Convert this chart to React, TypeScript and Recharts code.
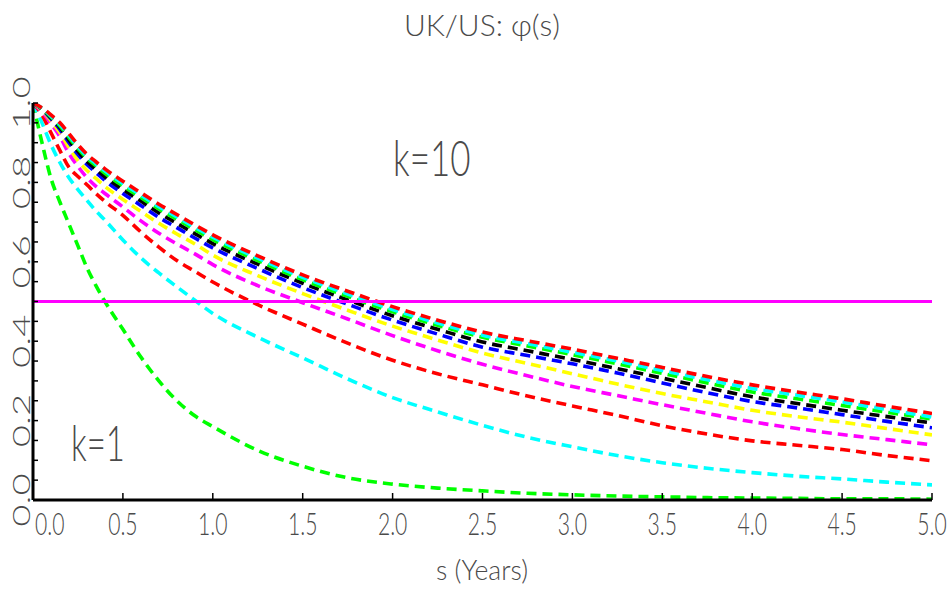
import React from "react";
import { LineChart, Line, XAxis, YAxis, ReferenceLine } from "recharts";

// maturity grid (years)
const sYears = [0, 0.05, 0.1, 0.15, 0.2, 0.25, 0.3, 0.35, 0.4, 0.5, 0.6, 0.7, 0.8, 0.9, 1.0, 1.25, 1.5, 1.75, 2.0, 2.25, 2.5, 2.75, 3.0, 3.25, 3.5, 3.75, 4.0, 4.25, 4.5, 4.75, 5.0];

// phi(s) for k = 1..10
const phiK1 = [1.0, 0.9, 0.81, 0.75, 0.695, 0.64, 0.585, 0.54, 0.5, 0.43, 0.36, 0.3, 0.25, 0.212, 0.185, 0.125, 0.085, 0.056, 0.04, 0.03, 0.023, 0.017, 0.013, 0.01, 0.008, 0.006, 0.005, 0.004, 0.003, 0.003, 0.002];
const phiK2 = [1.0, 0.95, 0.895, 0.85, 0.812, 0.782, 0.755, 0.728, 0.705, 0.655, 0.61, 0.572, 0.537, 0.503, 0.47, 0.41, 0.358, 0.305, 0.258, 0.222, 0.188, 0.158, 0.134, 0.112, 0.094, 0.08, 0.069, 0.06, 0.053, 0.045, 0.038];
const phiK3 = [1.0, 0.97, 0.925, 0.88, 0.838, 0.815, 0.794, 0.772, 0.752, 0.717, 0.675, 0.637, 0.603, 0.576, 0.549, 0.492, 0.443, 0.395, 0.352, 0.318, 0.29, 0.262, 0.237, 0.213, 0.187, 0.166, 0.149, 0.138, 0.127, 0.112, 0.099];
const phiK4 = [1.0, 0.978, 0.948, 0.915, 0.873, 0.84, 0.812, 0.79, 0.772, 0.738, 0.703, 0.672, 0.645, 0.62, 0.593, 0.54, 0.497, 0.456, 0.414, 0.376, 0.342, 0.313, 0.286, 0.263, 0.24, 0.218, 0.197, 0.18, 0.165, 0.152, 0.139];
const phiK5 = [1.0, 0.982, 0.955, 0.925, 0.888, 0.855, 0.83, 0.81, 0.79, 0.757, 0.727, 0.697, 0.67, 0.645, 0.617, 0.565, 0.52, 0.478, 0.438, 0.403, 0.37, 0.344, 0.318, 0.292, 0.268, 0.247, 0.226, 0.21, 0.196, 0.18, 0.164];
const phiK6 = [1.0, 0.984, 0.96, 0.933, 0.9, 0.87, 0.845, 0.825, 0.805, 0.772, 0.742, 0.712, 0.686, 0.66, 0.635, 0.583, 0.535, 0.493, 0.453, 0.418, 0.385, 0.364, 0.343, 0.32, 0.295, 0.27, 0.248, 0.232, 0.215, 0.198, 0.182];
const phiK7 = [1.0, 0.985, 0.963, 0.938, 0.907, 0.878, 0.853, 0.833, 0.814, 0.782, 0.753, 0.723, 0.697, 0.671, 0.646, 0.594, 0.546, 0.504, 0.464, 0.43, 0.398, 0.376, 0.354, 0.331, 0.307, 0.283, 0.26, 0.243, 0.226, 0.21, 0.194];
const phiK8 = [1.0, 0.986, 0.965, 0.942, 0.913, 0.885, 0.861, 0.842, 0.823, 0.791, 0.762, 0.733, 0.707, 0.681, 0.656, 0.603, 0.555, 0.513, 0.474, 0.44, 0.41, 0.388, 0.366, 0.343, 0.319, 0.295, 0.272, 0.255, 0.238, 0.221, 0.204];
const phiK9 = [1.0, 0.987, 0.967, 0.946, 0.918, 0.89, 0.866, 0.847, 0.829, 0.797, 0.768, 0.739, 0.713, 0.687, 0.662, 0.609, 0.561, 0.519, 0.48, 0.446, 0.415, 0.394, 0.372, 0.35, 0.326, 0.303, 0.281, 0.264, 0.247, 0.228, 0.209];
const phiK10 = [1.0, 0.988, 0.97, 0.95, 0.923, 0.895, 0.871, 0.852, 0.834, 0.803, 0.774, 0.745, 0.719, 0.693, 0.668, 0.615, 0.567, 0.526, 0.487, 0.453, 0.423, 0.401, 0.38, 0.357, 0.334, 0.311, 0.29, 0.272, 0.255, 0.236, 0.218];

const halfLevel = 0.5;

const xTicks = [0, 0.5, 1.0, 1.5, 2.0, 2.5, 3.0, 3.5, 4.0, 4.5, 5.0];
const yTicks = [0, 0.05, 0.1, 0.15, 0.2, 0.25, 0.3, 0.35, 0.4, 0.45, 0.5, 0.55, 0.6, 0.65, 0.7, 0.75, 0.8, 0.85, 0.9, 0.95, 1.0];

const series = [
  { key: "k1", values: phiK1, color: "#00ff00" },
  { key: "k2", values: phiK2, color: "#00ffff" },
  { key: "k3", values: phiK3, color: "#ff0000" },
  { key: "k4", values: phiK4, color: "#ff00ff" },
  { key: "k5", values: phiK5, color: "#ffff00" },
  { key: "k6", values: phiK6, color: "#0000ff" },
  { key: "k7", values: phiK7, color: "#000000" },
  { key: "k8", values: phiK8, color: "#00ff00" },
  { key: "k9", values: phiK9, color: "#00ffff" },
  { key: "k10", values: phiK10, color: "#ff0000" },
];

const rows = sYears.map((s, i) => {
  const r: Record<string, number> = { s };
  series.forEach((sr) => {
    r[sr.key] = sr.values[i];
  });
  return r;
});

const TEXT = "#4a4a4a";
const FONT = "Lato, 'DejaVu Sans', sans-serif";

function isMajor(v: number) {
  return Math.abs(v * 5 - Math.round(v * 5)) < 1e-6;
}

function LeftTick(props: any) {
  const { x, y, payload } = props;
  const v = payload.value as number;
  return (
    <g>
      <line x1={x} x2={x + 5} y1={y} y2={y} stroke="#000" strokeWidth={1.5} />
      {isMajor(v) && (
        <text
          transform={`translate(${x - 3},${y}) rotate(-90) scale(1.6,1)`}
          textAnchor="middle"
          fontSize={24}
          fontWeight={300}
          fontFamily={FONT}
          fill={TEXT}
        >
          {v.toFixed(1)}
        </text>
      )}
    </g>
  );
}

function RightTick(props: any) {
  const { x, y } = props;
  return <line x1={x - 5} x2={x} y1={y} y2={y} stroke="#000" strokeWidth={1.5} />;
}

function BottomTick(props: any) {
  const { x, y, payload, index } = props;
  const first = index === 0;
  return (
    <g>
      <line x1={x} x2={x} y1={y} y2={y - 7} stroke="#000" strokeWidth={1.5} />
      <text
        transform={`translate(${first ? x + 2 : x},${y + 35}) scale(0.66,1)`}
        textAnchor={first ? "start" : "middle"}
        fontSize={32}
        fontWeight={300}
        fontFamily={FONT}
        fill={TEXT}
      >
        {(payload.value as number).toFixed(1)}
      </text>
    </g>
  );
}

function TopTick(props: any) {
  const { x, y } = props;
  return <line x1={x} x2={x} y1={y} y2={y + 7} stroke="#000" strokeWidth={1.5} />;
}

export default function App() {
  return (
    <div style={{ position: "absolute", left: 0, top: 0, width: 952, height: 592, background: "#fff" }}>
      <LineChart width={952} height={592} data={rows} margin={{ top: 103, right: 20, bottom: 0, left: 0 }}>
        <XAxis
          xAxisId="b"
          dataKey="s"
          type="number"
          domain={[0, 5]}
          allowDataOverflow
          ticks={xTicks}
          interval={0}
          height={92}
          tickSize={0}
          tickMargin={0}
          tickLine={false}
          axisLine={{ stroke: "#000", strokeWidth: 3 }}
          tick={<BottomTick />}
        />
        <XAxis
          xAxisId="t"
          orientation="top"
          dataKey="s"
          type="number"
          domain={[0, 5]}
          allowDataOverflow
          ticks={xTicks}
          interval={0}
          height={0}
          tickSize={0}
          tickMargin={0}
          tickLine={false}
          axisLine={{ stroke: "#000", strokeWidth: 3 }}
          tick={<TopTick />}
        />
        <YAxis
          yAxisId="l"
          type="number"
          domain={[0, 1]}
          allowDataOverflow
          ticks={yTicks}
          interval={0}
          width={33}
          tickSize={0}
          tickMargin={0}
          tickLine={false}
          axisLine={{ stroke: "#000", strokeWidth: 3 }}
          tick={<LeftTick />}
        />
        <YAxis
          yAxisId="r"
          orientation="right"
          type="number"
          domain={[0, 1]}
          allowDataOverflow
          ticks={yTicks}
          interval={0}
          width={0}
          tickSize={0}
          tickMargin={0}
          tickLine={false}
          axisLine={{ stroke: "#000", strokeWidth: 3 }}
          tick={<RightTick />}
        />
        {series.map((sr) => (
          <Line
            key={sr.key}
            xAxisId="b"
            yAxisId="l"
            type="monotone"
            dataKey={sr.key}
            stroke={sr.color}
            strokeWidth={3.6}
            strokeDasharray="10 6"
            dot={false}
            isAnimationActive={false}
          />
        ))}
        <ReferenceLine xAxisId="b" yAxisId="l" y={halfLevel} stroke="#ff00ff" strokeWidth={3} />
      </LineChart>
      <svg
        width={952}
        height={592}
        style={{ position: "absolute", left: 0, top: 0, pointerEvents: "none" }}
        fontFamily={FONT}
        fontWeight={300}
        fill={TEXT}
      >
        <text x={482} y={36} textAnchor="middle" fontSize={30}>
          UK/US: φ(s)
        </text>
        <text transform="translate(482,580) scale(0.95,1)" textAnchor="middle" fontSize={28}>
          s (Years)
        </text>
        <text transform="translate(393,176) scale(0.7,1)" fontSize={50}>
          k=10
        </text>
        <text transform="translate(71,461) scale(0.66,1)" fontSize={50}>
          k=1
        </text>
      </svg>
    </div>
  );
}
